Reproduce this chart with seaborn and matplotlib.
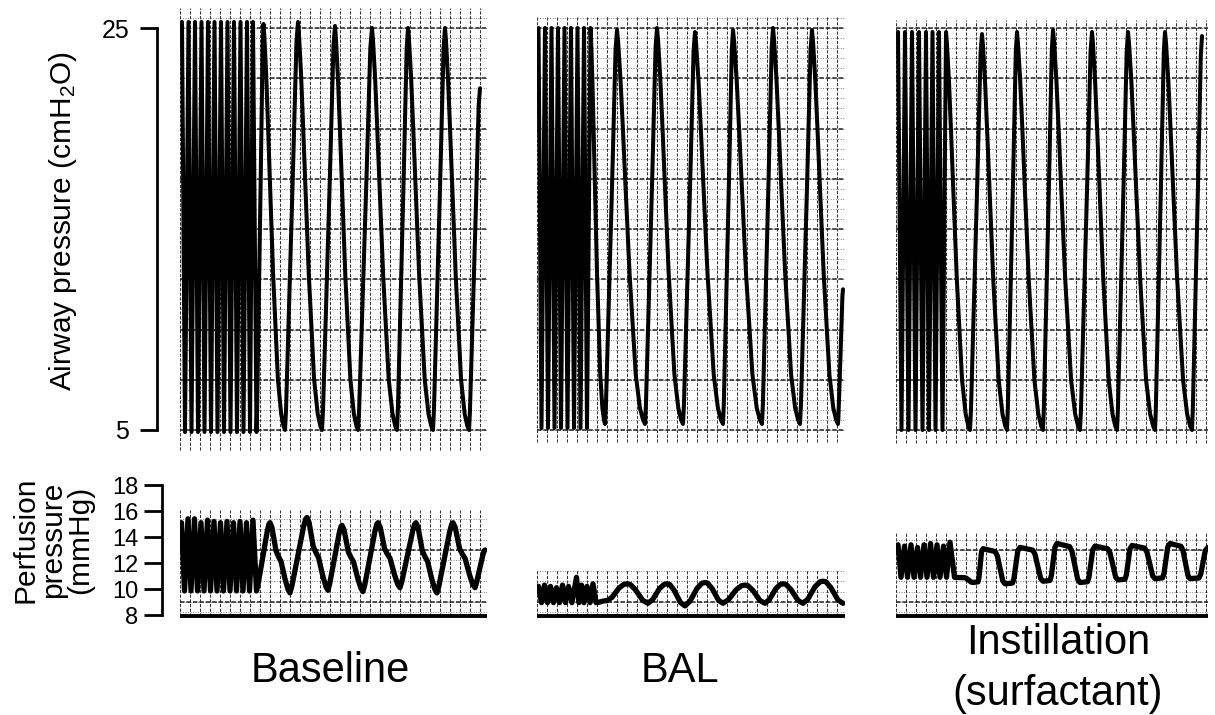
import numpy as np
import pandas as pd
import matplotlib
matplotlib.use("Agg")
import matplotlib.pyplot as plt
import seaborn as sns

# ------------------------------------------------------------------
# Data read from the chart recording.
# x: position along the chart paper (1 unit = one small grid division)
# Airway pressure in cmH2O, perfusion pressure in mmHg
# ------------------------------------------------------------------
PANEL_LABELS = ["Baseline", "BAL", "Instillation", "(surfactant)"]
AW_TICKS = [5, 25]
PP_TICKS = [8, 10, 12, 14, 16, 18]

# ---- Baseline : airway pressure ----
BASE_AW_FAST_PEAK_T = [0.2, 0.85, 1.5, 2.15, 2.8, 3.45, 4.1, 4.75, 5.4, 6.05, 6.7, 7.3]
BASE_AW_FAST_PEAK_V = [25.3] * 12
BASE_AW_FAST_TROUGH_T = [0.5, 1.15, 1.8, 2.45, 3.1, 3.75, 4.4, 5.05, 5.7, 6.35, 7.0, 7.65]
BASE_AW_FAST_TROUGH_V = [4.9] * 12
BASE_AW_PEAK_T = [8.35, 11.8, 15.5, 19.2, 22.8, 26.5]
BASE_AW_PEAK_V = [25.2, 25.3, 25.1, 25.0, 25.0, 25.0]
BASE_AW_TROUGH_T = [10.5, 14.2, 17.8, 21.7, 25.3, 28.9, 30.0]
BASE_AW_TROUGH_V = [5.0, 5.0, 5.0, 5.0, 5.0, 5.0, 22.0]

# ---- BAL : airway pressure ----
BAL_AW_FAST_PEAK_T = [0.15, 0.8, 1.45, 2.1, 2.75, 3.4, 4.05, 4.7, 5.35]
BAL_AW_FAST_PEAK_V = [25.0] * 9
BAL_AW_FAST_TROUGH_T = [0.45, 1.1, 1.75, 2.4, 3.05, 3.7, 4.35, 5.0]
BAL_AW_FAST_TROUGH_V = [5.1] * 8
BAL_AW_PEAK_T = [8.0, 12.0, 15.8, 19.6, 23.6, 27.5]
BAL_AW_PEAK_V = [24.9, 25.0, 24.8, 24.9, 25.0, 24.9]
BAL_AW_TROUGH_T = [6.8, 10.8, 14.6, 18.6, 22.5, 26.3, 30.1, 30.6]
BAL_AW_TROUGH_V = [5.3, 5.3, 5.3, 5.3, 5.3, 5.3, 5.3, 12.0]

# ---- Instillation : airway pressure ----
INST_AW_FAST_PEAK_T = [0.2, 0.9, 1.6, 2.3, 3.0, 3.65, 4.3, 5.0]
INST_AW_FAST_PEAK_V = [24.8] * 8
INST_AW_FAST_TROUGH_T = [0.55, 1.25, 1.95, 2.65, 3.3, 3.95, 4.65]
INST_AW_FAST_TROUGH_V = [5.0] * 7
INST_AW_PEAK_T = [8.6, 12.1, 15.7, 19.6, 23.2, 26.9, 30.6]
INST_AW_PEAK_V = [24.7, 24.8, 24.9, 24.8, 24.8, 24.8, 24.6]
INST_AW_TROUGH_T = [7.4, 11.1, 14.7, 18.4, 22.1, 25.9, 29.6]
INST_AW_TROUGH_V = [5.0] * 7

# ---- Baseline : perfusion pressure ----
BASE_PP_FAST_PEAK_T = [0.15, 0.8, 1.45, 2.1, 2.75, 3.4, 4.05, 4.7, 5.35, 6.0, 6.65, 7.3]
BASE_PP_FAST_PEAK_V = [15.1, 15.4, 15.4, 15.1, 15.3, 15.2, 15.1, 15.2, 15.1, 15.2, 15.1, 15.3]
BASE_PP_FAST_TROUGH_T = [0.45, 1.1, 1.75, 2.4, 3.05, 3.7, 4.35, 5.0, 5.65, 6.3, 6.95, 7.65]
BASE_PP_FAST_TROUGH_V = [9.85] * 12
BASE_PP_PEAK_T = [9.0, 12.7, 16.2, 19.8, 23.6, 27.3]
BASE_PP_PEAK_V = [15.1, 15.5, 14.9, 15.1, 15.1, 15.1]
BASE_PP_TROUGH_T = [11.0, 14.8, 18.3, 22.0, 25.7, 29.5, 30.5]
BASE_PP_TROUGH_V = [9.7, 9.9, 9.8, 10.1, 9.7, 10.1, 13.0]

# ---- BAL : perfusion pressure ----
BAL_PP_FAST_PEAK_T = [0.15, 0.75, 1.35, 1.95, 2.55, 3.15, 3.95, 4.45, 5.0, 5.6]
BAL_PP_FAST_PEAK_V = [10.2, 10.3, 10.2, 10.1, 10.3, 10.2, 10.9, 10.3, 10.2, 10.4]
BAL_PP_FAST_TROUGH_T = [0.45, 1.05, 1.65, 2.25, 2.85, 3.5, 4.2, 4.7, 5.3, 5.9]
BAL_PP_FAST_TROUGH_V = [8.95] * 10
BAL_PP_PEAK_T = [9.0, 13.0, 16.8, 20.8, 24.6, 28.6]
BAL_PP_PEAK_V = [10.4, 10.4, 10.5, 10.3, 10.4, 10.6]
BAL_PP_TROUGH_T = [7.0, 11.1, 14.8, 18.6, 22.8, 26.6, 30.6]
BAL_PP_TROUGH_V = [9.1, 8.9, 8.7, 8.9, 8.9, 8.9, 8.9]

# ---- Instillation : perfusion pressure ----
INST_PP_FAST_PEAK_T = [0.2, 0.85, 1.5, 2.15, 2.8, 3.45, 4.1, 4.75, 5.4]
INST_PP_FAST_PEAK_V = [13.4, 13.3, 13.4, 13.2, 13.4, 13.5, 13.4, 13.3, 13.6]
INST_PP_FAST_TROUGH_T = [0.5, 1.15, 1.8, 2.45, 3.1, 3.75, 4.4, 5.05, 5.85]
INST_PP_FAST_TROUGH_V = [10.9] * 9
INST_PP_PEAK_T = [8.7, 12.4, 16.1, 19.9, 23.6, 27.4, 31.2]
INST_PP_PEAK_V = [13.1, 13.2, 13.5, 13.3, 13.35, 13.5, 13.2]
INST_PP_TROUGH_T = [7.7, 10.9, 14.7, 18.4, 22.2, 25.9, 29.4]
INST_PP_TROUGH_V = [10.5, 10.4, 10.6, 10.5, 10.7, 10.8, 10.8]

# Waveform shapes between successive extremes
# (fraction of segment duration, fraction of the excursion)
AW_RISE_T = [0, 0.08, 0.6, 0.88, 1.0]
AW_RISE_P = [0, 0.05, 0.62, 0.95, 1.0]
AW_FALL_T = [0, 0.04, 0.125, 0.21, 0.29, 0.45, 0.67, 0.82, 0.93, 1.0]
AW_FALL_P = [1, 0.97, 0.875, 0.75, 0.625, 0.38, 0.125, 0.04, 0.01, 0]
BASE_PP_RISE_T = [0, 0.12, 0.8, 0.92, 1]
BASE_PP_RISE_P = [0, 0.1, 0.88, 0.98, 1]
BASE_PP_FALL_T = [0, 0.1, 0.3, 0.42, 0.55, 0.75, 0.9, 1]
BASE_PP_FALL_P = [1, 0.93, 0.6, 0.52, 0.45, 0.2, 0.05, 0]
BAL_PP_RISE_T = [0, 0.25, 0.6, 0.85, 1]
BAL_PP_RISE_P = [0, 0.2, 0.75, 0.97, 1]
BAL_PP_FALL_T = [0, 0.15, 0.4, 0.75, 1]
BAL_PP_FALL_P = [1, 0.97, 0.7, 0.15, 0]
INST_PP_RISE_T = [0, 0.5, 0.6, 0.85, 1]
INST_PP_RISE_P = [0, 0.02, 0.15, 0.9, 1]
INST_PP_FALL_T = [0, 0.55, 0.65, 0.9, 1]
INST_PP_FALL_P = [1, 0.92, 0.8, 0.08, 0]

PP_FLOOR = 7.9  # recorder base line under perfusion traces


# ------------------------------------------------------------------
def merge(pt, pv, tt, tv):
    pts = list(zip(pt, pv)) + list(zip(tt, tv))
    return sorted(pts, key=lambda p: p[0])


def build_trace(fast, slow, rise, fall):
    t = [p[0] for p in fast]
    v = [p[1] for p in fast]
    pts = [fast[-1]] + slow
    for (t0, v0), (t1, v1) in zip(pts[:-1], pts[1:]):
        up = v1 >= v0
        ft, fp = rise if up else fall
        for a, b in zip(ft[1:], fp[1:]):
            t.append(t0 + a * (t1 - t0))
            v.append(v0 + b * (v1 - v0) if up else v1 + b * (v0 - v1))
    return pd.DataFrame({"t": t, "v": v})


aw_traces = [
    build_trace(merge(BASE_AW_FAST_PEAK_T, BASE_AW_FAST_PEAK_V, BASE_AW_FAST_TROUGH_T, BASE_AW_FAST_TROUGH_V),
                merge(BASE_AW_PEAK_T, BASE_AW_PEAK_V, BASE_AW_TROUGH_T, BASE_AW_TROUGH_V),
                (AW_RISE_T, AW_RISE_P), (AW_FALL_T, AW_FALL_P)),
    build_trace(merge(BAL_AW_FAST_PEAK_T, BAL_AW_FAST_PEAK_V, BAL_AW_FAST_TROUGH_T, BAL_AW_FAST_TROUGH_V),
                merge(BAL_AW_PEAK_T, BAL_AW_PEAK_V, BAL_AW_TROUGH_T, BAL_AW_TROUGH_V),
                (AW_RISE_T, AW_RISE_P), (AW_FALL_T, AW_FALL_P)),
    build_trace(merge(INST_AW_FAST_PEAK_T, INST_AW_FAST_PEAK_V, INST_AW_FAST_TROUGH_T, INST_AW_FAST_TROUGH_V),
                merge(INST_AW_PEAK_T, INST_AW_PEAK_V, INST_AW_TROUGH_T, INST_AW_TROUGH_V),
                (AW_RISE_T, AW_RISE_P), (AW_FALL_T, AW_FALL_P)),
]
pp_traces = [
    build_trace(merge(BASE_PP_FAST_PEAK_T, BASE_PP_FAST_PEAK_V, BASE_PP_FAST_TROUGH_T, BASE_PP_FAST_TROUGH_V),
                merge(BASE_PP_PEAK_T, BASE_PP_PEAK_V, BASE_PP_TROUGH_T, BASE_PP_TROUGH_V),
                (BASE_PP_RISE_T, BASE_PP_RISE_P), (BASE_PP_FALL_T, BASE_PP_FALL_P)),
    build_trace(merge(BAL_PP_FAST_PEAK_T, BAL_PP_FAST_PEAK_V, BAL_PP_FAST_TROUGH_T, BAL_PP_FAST_TROUGH_V),
                merge(BAL_PP_PEAK_T, BAL_PP_PEAK_V, BAL_PP_TROUGH_T, BAL_PP_TROUGH_V),
                (BAL_PP_RISE_T, BAL_PP_RISE_P), (BAL_PP_FALL_T, BAL_PP_FALL_P)),
    build_trace(merge(INST_PP_FAST_PEAK_T, INST_PP_FAST_PEAK_V, INST_PP_FAST_TROUGH_T, INST_PP_FAST_TROUGH_V),
                merge(INST_PP_PEAK_T, INST_PP_PEAK_V, INST_PP_TROUGH_T, INST_PP_TROUGH_V),
                (INST_PP_RISE_T, INST_PP_RISE_P), (INST_PP_FALL_T, INST_PP_FALL_P)),
]

# ------------------------------------------------------------------
sns.set_style("white")
plt.rcParams["font.family"] = ["Liberation Sans", "DejaVu Sans"]
plt.rcParams["mathtext.fontset"] = "custom"
plt.rcParams["mathtext.rm"] = "Liberation Sans"
plt.rcParams["mathtext.it"] = "Liberation Sans:italic"
plt.rcParams["text.color"] = "black"
plt.rcParams["ytick.color"] = "black"
plt.rcParams["ytick.left"] = True

W, H = 1215, 715
fig = plt.figure(figsize=(W / 100, H / 100), dpi=100)
fig.patch.set_facecolor("white")


def px_axes(x0, x1, ytop, ybot):
    return fig.add_axes([x0 / W, 1 - ybot / H, (x1 - x0) / W, (ybot - ytop) / H])


panel_left = [180, 537, 896]
panel_len = [30.7, 30.8, 31.2]          # grid units (10 px each)
aw_grid_top = [26.0, 25.6, 25.4]
aw_grid_bot = [4.0, 4.4, 4.35]
pp_grid_top = [16.1, 11.45, 14.3]

AW_YLIM = (5 - 22 / 20.1, 25 + 23 / 20.1)
PP_YLIM = (8 - 7 / 13, 18 + 15 / 13)

vline_kw = dict(colors="#333333", linewidths=0.75, linestyles=(0, (3, 1.5)), zorder=1)
hmin_kw = dict(colors="#6e6e6e", linewidths=0.65, linestyles=(0, (1, 1.8)), zorder=1)
hmaj_kw = dict(colors="#222222", linewidths=1.1, linestyles=(0, (3, 1.2)), zorder=1)

for i in range(3):
    x0 = panel_left[i]
    L = panel_len[i]
    # ---------- airway ----------
    ax = px_axes(x0, x0 + L * 10, 5, 452)
    xs = np.arange(0, L + 0.01, 1.0)
    ax.vlines(xs, aw_grid_bot[i], aw_grid_top[i], **vline_kw)
    hmin = np.arange(5.0, aw_grid_top[i], 0.5)
    ax.hlines(hmin, 0, L, **hmin_kw)
    ax.hlines(np.arange(5.0, 25.01, 2.5), 0, L, **hmaj_kw)
    sns.lineplot(data=aw_traces[i], x="t", y="v", ax=ax, sort=False, estimator=None,
                 color="black", linewidth=2.9, zorder=3)
    ax.lines[-1].set_solid_joinstyle("round")
    ax.set_xlim(0, L)
    ax.set_ylim(*AW_YLIM)
    ax.set_xlabel("")
    ax.set_ylabel("")
    ax.set_xticks([])
    for s in ["top", "right", "bottom"]:
        ax.spines[s].set_visible(False)
    if i == 0:
        sp = ax.spines["left"]
        sp.set_position(("outward", 16.5))
        sp.set_bounds(5, 25)
        sp.set_linewidth(2.0)
        sp.set_color("black")
        ax.set_yticks(AW_TICKS)
        ax.set_yticklabels([str(v) for v in AW_TICKS], fontsize=18)
        ax.tick_params(axis="y", left=True, direction="out", length=12, width=2.0,
                       pad=8, colors="black")
    else:
        ax.spines["left"].set_visible(False)
        ax.set_yticks([])
    ax.patch.set_alpha(0)

    # ---------- perfusion ----------
    axp = px_axes(x0, x0 + L * 10, 470, 622)
    axp.vlines(xs, PP_FLOOR, pp_grid_top[i], **vline_kw)
    hmin = np.arange(8.2, pp_grid_top[i], 0.8)
    axp.hlines(hmin, 0, L, **hmin_kw)
    hmaj = [h for h in (9.0, 13.0) if h < pp_grid_top[i]]
    axp.hlines(hmaj, 0, L, **hmaj_kw)
    axp.axhline(PP_FLOOR, color="black", linewidth=2.8, zorder=4)
    sns.lineplot(data=pp_traces[i], x="t", y="v", ax=axp, sort=False, estimator=None,
                 color="black", linewidth=3.8, zorder=3)
    axp.lines[-1].set_solid_joinstyle("round")
    axp.set_xlim(0, L)
    axp.set_ylim(*PP_YLIM)
    axp.set_xlabel("")
    axp.set_ylabel("")
    axp.set_xticks([])
    for s in ["top", "right", "bottom"]:
        axp.spines[s].set_visible(False)
    if i == 0:
        sp = axp.spines["left"]
        sp.set_position(("outward", 13))
        sp.set_bounds(8, 18)
        sp.set_linewidth(2.0)
        sp.set_color("black")
        axp.set_yticks(PP_TICKS)
        axp.set_yticklabels([str(v) for v in PP_TICKS], fontsize=17)
        axp.tick_params(axis="y", left=True, direction="out", length=13, width=2.0,
                        pad=4, colors="black")
    else:
        axp.spines["left"].set_visible(False)
        axp.set_yticks([])
    axp.patch.set_alpha(0)

# ---------- labels ----------
def fxy(px, py):
    return px / W, 1 - py / H

fig.text(*fxy(63, 221), r"Airway pressure (cmH$_{\mathrm{2}}$O)", rotation=90,
         ha="center", va="center", fontsize=21.5)
for txt, xp in zip(["Perfusion", "pressure", "(mmHg)"], [25, 53, 80]):
    fig.text(*fxy(xp, 540), txt, rotation=90, ha="center", va="center", fontsize=21.5)

fig.text(*fxy(330, 671), PANEL_LABELS[0], ha="center", va="center", fontsize=30)
fig.text(*fxy(680, 671), PANEL_LABELS[1], ha="center", va="center", fontsize=30)
fig.text(*fxy(1058, 643), PANEL_LABELS[2], ha="center", va="center", fontsize=30)
fig.text(*fxy(1058, 694), PANEL_LABELS[3], ha="center", va="center", fontsize=30)

fig.savefig("out.png", dpi=100, facecolor="white")
